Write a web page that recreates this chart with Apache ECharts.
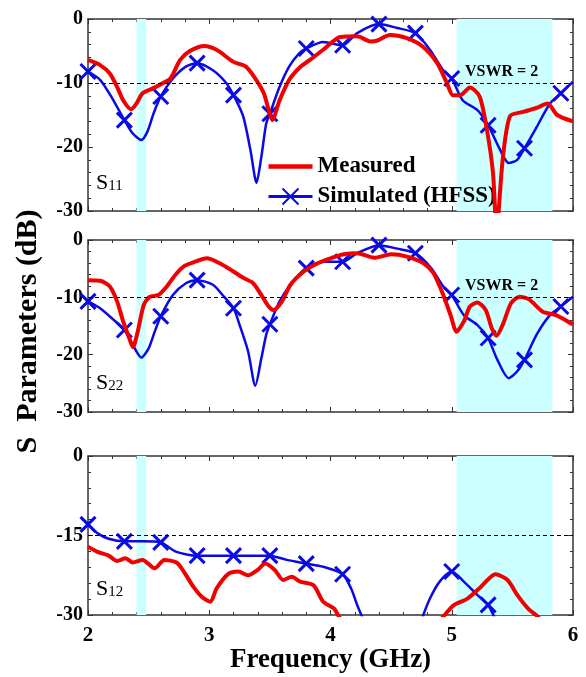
<!DOCTYPE html>
<html>
<head>
<meta charset="utf-8">
<script src="https://cdn.jsdelivr.net/npm/echarts@6/dist/echarts.min.js"></script>
<style>
  html, body { margin: 0; padding: 0; background: #fff; }
  #main { width: 586px; height: 677px; }
</style>
</head>
<body>
<div id="main"></div>
<script>
// frequency (GHz) where the HFSS curve carries an X marker
var markX = [2.0, 2.3, 2.6, 2.9, 3.2, 3.5, 3.8, 4.1, 4.4, 4.7, 5.0, 5.3, 5.6, 5.9];

// WLAN bands shaded in cyan
var bands = [[2.40, 2.48], [5.04, 5.83]];

// S11
var s11Meas = [[2.0,-6.4],[2.1,-7.2],[2.18,-8.5],[2.24,-10.6],[2.29,-12.7],[2.355,-14.1],[2.4,-13.2],[2.45,-11.6],
  [2.54,-10.8],[2.62,-10.0],[2.68,-9.3],[2.76,-6.4],[2.84,-5.0],[2.96,-4.2],[3.06,-4.8],[3.2,-6.7],[3.3,-7.4],
  [3.38,-9.3],[3.45,-11.6],[3.49,-14.2],[3.52,-15.8],[3.58,-12.7],[3.66,-9.5],[3.75,-7.5],[3.83,-6.4],[3.94,-4.8],
  [4.08,-2.8],[4.22,-2.7],[4.33,-3.5],[4.38,-3.4],[4.49,-2.5],[4.63,-3.0],[4.76,-4.3],[4.88,-6.9],[4.96,-10.0],
  [5.01,-11.9],[5.07,-11.9],[5.15,-10.7],[5.23,-12.1],[5.29,-17.3],[5.34,-24],[5.37,-33],[5.42,-22],[5.48,-15.2],
  [5.59,-14.5],[5.7,-13.9],[5.79,-13.2],[5.87,-15.0],[6.0,-16.0]];
var s11Sim = [[2.0,-8.2],[2.1,-9.5],[2.2,-12.4],[2.3,-15.8],[2.37,-17.9],[2.44,-18.9],[2.49,-17.6],[2.54,-14.8],
  [2.6,-12.1],[2.7,-9.3],[2.81,-7.4],[2.9,-6.9],[3.03,-8.0],[3.14,-10.0],[3.2,-11.9],[3.28,-15.2],[3.34,-20.5],
  [3.39,-25.6],[3.43,-21.5],[3.47,-16.3],[3.5,-14.8],[3.58,-10.6],[3.66,-7.4],[3.74,-5.4],[3.8,-4.6],[3.94,-3.6],
  [4.1,-4.1],[4.22,-2.2],[4.4,-0.8],[4.55,-1.4],[4.7,-2.2],[4.82,-4.8],[4.93,-8.0],[5.0,-9.3],[5.09,-12.7],
  [5.21,-14.2],[5.3,-16.6],[5.4,-20.5],[5.47,-22.5],[5.54,-22.0],[5.6,-20.2],[5.7,-16.9],[5.81,-13.2],[5.9,-11.6],[6.0,-9.8]];

// S22
var s22Meas = [[2.0,-7.0],[2.1,-7.1],[2.18,-8.1],[2.24,-10.7],[2.29,-14.2],[2.34,-17.1],[2.37,-18.7],[2.41,-16.0],
  [2.46,-11.3],[2.51,-9.9],[2.58,-9.6],[2.65,-8.1],[2.72,-6.1],[2.79,-4.6],[2.87,-3.9],[2.98,-3.2],[3.09,-4.1],
  [3.2,-5.5],[3.28,-6.6],[3.36,-7.5],[3.43,-9.6],[3.49,-11.6],[3.53,-12.2],[3.6,-10.7],[3.67,-7.8],[3.78,-5.5],
  [3.89,-4.1],[4.0,-3.2],[4.11,-2.5],[4.22,-2.3],[4.36,-3.1],[4.5,-2.5],[4.63,-2.9],[4.77,-4.1],[4.85,-5.8],
  [4.93,-9.6],[4.99,-13.1],[5.04,-16.0],[5.1,-14.2],[5.15,-11.6],[5.21,-10.9],[5.28,-12.2],[5.33,-15.4],
  [5.37,-16.7],[5.42,-14.8],[5.49,-11.0],[5.56,-9.9],[5.64,-10.4],[5.75,-12.5],[5.86,-13.1],[5.98,-14.5],[6.0,-14.7]];
var s22Sim = [[2.0,-10.7],[2.1,-11.9],[2.21,-13.9],[2.3,-15.7],[2.37,-18.3],[2.44,-20.5],[2.5,-18.9],[2.55,-16.0],
  [2.6,-13.3],[2.7,-9.6],[2.81,-7.5],[2.9,-7.0],[3.03,-7.8],[3.11,-9.6],[3.2,-11.9],[3.25,-14.8],[3.32,-19.4],
  [3.38,-25.4],[3.43,-20.6],[3.47,-16.5],[3.5,-14.7],[3.58,-10.7],[3.67,-7.8],[3.8,-4.9],[3.94,-3.8],[4.1,-3.8],
  [4.22,-2.3],[4.4,-0.9],[4.55,-1.5],[4.7,-2.3],[4.83,-4.9],[4.93,-8.1],[5.0,-9.6],[5.1,-13.1],[5.21,-14.8],
  [5.3,-17.1],[5.37,-20.6],[5.47,-24.1],[5.54,-22.9],[5.6,-20.9],[5.7,-16.5],[5.81,-13.1],[5.9,-11.6],[6.0,-9.9]];

// S12
var s12Meas = [[2.0,-17.1],[2.08,-18.1],[2.17,-18.8],[2.24,-19.8],[2.31,-19.3],[2.37,-20.1],[2.45,-19.6],[2.55,-21.2],
  [2.63,-19.6],[2.73,-20.1],[2.79,-21.8],[2.87,-24.7],[2.94,-26.6],[3.01,-27.5],[3.06,-25.0],[3.16,-22.2],
  [3.24,-21.8],[3.32,-22.5],[3.4,-21.5],[3.46,-20.3],[3.54,-21.5],[3.61,-23.4],[3.68,-22.8],[3.75,-23.7],
  [3.86,-24.4],[3.94,-27.5],[4.03,-28.8],[4.07,-30.3],[4.2,-34],[4.5,-38],[4.8,-34],[4.93,-30.3],[5.02,-28.1],
  [5.13,-26.9],[5.24,-24.7],[5.36,-22.3],[5.46,-23.4],[5.54,-26.2],[5.63,-28.8],[5.71,-30.3],[5.8,-33],[6.0,-36]];
var s12Sim = [[2.0,-12.9],[2.08,-14.6],[2.17,-15.6],[2.3,-16.1],[2.45,-16.1],[2.6,-16.3],[2.73,-18.1],[2.9,-18.8],
  [3.06,-18.8],[3.2,-18.8],[3.37,-18.8],[3.5,-18.8],[3.64,-19.6],[3.8,-20.3],[3.94,-20.9],[4.1,-22.3],[4.17,-25],
  [4.22,-28.1],[4.26,-30.3],[4.35,-35],[4.4,-37],[4.5,-39],[4.6,-37],[4.7,-34],[4.76,-30.3],[4.82,-26.9],
  [4.9,-23.7],[5.0,-21.8],[5.1,-23.7],[5.21,-26.2],[5.3,-28.1],[5.35,-30.3],[5.45,-34],[5.6,-38],[5.75,-40],
  [5.9,-41],[6.0,-42]];

var RED = '#f00000', BLUE = '#0a0ae6', FRAME = '#333';
var SERIF = 'Liberation Serif';

var grids = [
  { left: 88, right: 13, top: 19, height: 192 },
  { left: 88, right: 13, top: 240, height: 172 },
  { left: 88, right: 13, top: 456, height: 159 }
];

function xAxis(gi, pos, labels) {
  return {
    type: 'value', gridIndex: gi, position: pos, min: 2, max: 6, interval: 1,
    axisLine: { show: true, onZero: false, lineStyle: { color: FRAME, width: 1.5 } },
    axisTick: { show: true, inside: true, length: 5, lineStyle: { color: FRAME } },
    minorTick: { show: true, splitNumber: 5, length: 3, lineStyle: { color: FRAME } },
    splitLine: { show: false },
    axisLabel: { show: labels, margin: 10, color: '#000', fontFamily: SERIF, fontWeight: 'bold', fontSize: 21 }
  };
}

function yAxis(gi, pos, labels, step) {
  return {
    type: 'value', gridIndex: gi, position: pos, min: -30, max: 0, interval: step,
    axisLine: { show: true, onZero: false, lineStyle: { color: FRAME, width: 1.5 } },
    axisTick: { show: true, inside: true, length: 5, lineStyle: { color: FRAME } },
    minorTick: { show: true, splitNumber: 5, length: 3, lineStyle: { color: FRAME } },
    splitLine: { show: false },
    axisLabel: { show: labels, margin: 5, color: '#000', fontFamily: SERIF, fontWeight: 'bold', fontSize: 20 }
  };
}

var xAxes = [], yAxes = [];
for (var g = 0; g < 3; g++) {
  xAxes.push(xAxis(g, 'bottom', g === 2));
  xAxes.push(xAxis(g, 'top', false));
  var step = g === 2 ? 15 : 10;
  yAxes.push(yAxis(g, 'left', true, step));
  yAxes.push(yAxis(g, 'right', false, step));
}
xAxes[4].name = 'Frequency (GHz)';
xAxes[4].nameLocation = 'middle';
xAxes[4].nameGap = 30;
xAxes[4].nameTextStyle = { color: '#000', fontFamily: SERIF, fontWeight: 'bold', fontSize: 27 };
yAxes[2].name = 'S  Parameters (dB)';
yAxes[2].nameLocation = 'middle';
yAxes[2].nameGap = 45;
yAxes[2].nameTextStyle = { color: '#000', fontFamily: SERIF, fontWeight: 'bold', fontSize: 30, padding: [0, 11, 0, 0] };

function bgSeries(gi, refLine) {
  return {
    type: 'line', xAxisIndex: gi * 2, yAxisIndex: gi * 2, data: [], z: 1, silent: true,
    markArea: {
      silent: true,
      itemStyle: { color: '#ccffff' },
      data: bands.map(function (b) { return [{ xAxis: b[0] }, { xAxis: b[1] }]; })
    },
    markLine: {
      silent: true, symbol: ['none', 'none'],
      label: { show: false },
      lineStyle: { color: '#000', width: 1, type: [4, 3] },
      data: [{ yAxis: refLine }]
    }
  };
}

function measSeries(gi, data) {
  return {
    name: 'Measured', type: 'line', xAxisIndex: gi * 2, yAxisIndex: gi * 2, z: 4,
    data: data, smooth: 0.25, symbol: 'none', clip: true,
    lineStyle: { color: RED, width: 4 }, itemStyle: { color: RED }
  };
}

function simSeries(gi, data) {
  return {
    name: 'Simulated (HFSS)', type: 'line', xAxisIndex: gi * 2, yAxisIndex: gi * 2, z: 3,
    data: data, smooth: 0.25, clip: true,
    symbol: 'path://M0,0L10,10M10,0L0,10',
    symbolSize: function (v) { return (markX.indexOf(v[0]) >= 0 && v[1] >= -30.5) ? 15 : 0; },
    lineStyle: { color: BLUE, width: 2.5 },
    itemStyle: { color: BLUE, borderColor: BLUE, borderWidth: 3 }
  };
}

function subLabel(top, sub) {
  return {
    type: 'text', left: 96, top: top, z: 10,
    style: {
      text: '{a|S}{b|' + sub + '}',
      rich: {
        a: { fontFamily: SERIF, fontSize: 22, fill: '#000' },
        b: { fontFamily: SERIF, fontSize: 15, fill: '#000', padding: [6, 0, 0, 0] }
      }
    }
  };
}

function vswr(top) {
  return {
    type: 'text', left: 465, top: top, z: 10,
    style: { text: 'VSWR = 2', fontFamily: SERIF, fontWeight: 'bold', fontSize: 16, fill: '#000' }
  };
}

var chart = echarts.init(document.getElementById('main'));
chart.setOption({
  animation: false,
  backgroundColor: '#fff',
  grid: grids,
  xAxis: xAxes,
  yAxis: yAxes,
  legend: {
    orient: 'vertical', left: 262, top: 150, itemWidth: 44, itemHeight: 20, itemGap: 7,
    lineStyle: { width: 3 },
    data: [
      { name: 'Measured', icon: 'path://M0,0H40V4H0Z' },
      { name: 'Simulated (HFSS)' }
    ],
    textStyle: { color: '#000', fontFamily: SERIF, fontWeight: 'bold', fontSize: 23 }
  },
  graphic: [subLabel(172, '11'), subLabel(372, '22'), subLabel(578, '12'), vswr(64), vswr(278)],
  series: [
    bgSeries(0, -10), bgSeries(1, -10), bgSeries(2, -15),
    simSeries(0, s11Sim), measSeries(0, s11Meas),
    simSeries(1, s22Sim), measSeries(1, s22Meas),
    simSeries(2, s12Sim), measSeries(2, s12Meas)
  ]
});
</script>
</body>
</html>
